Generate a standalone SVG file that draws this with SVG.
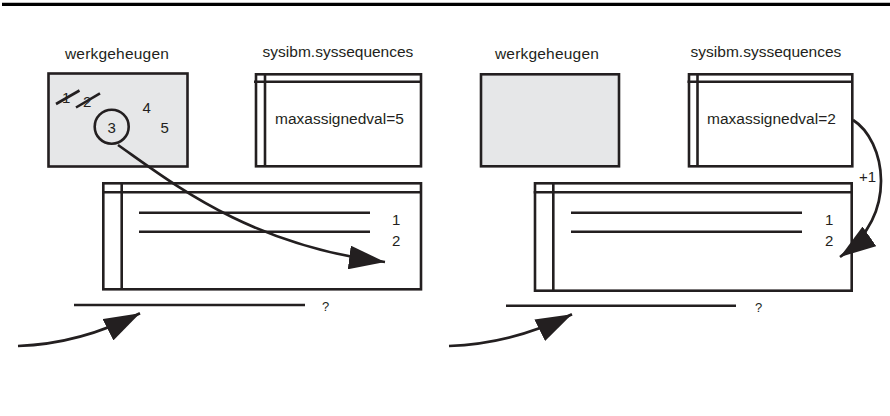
<svg xmlns="http://www.w3.org/2000/svg" width="890" height="416" viewBox="0 0 890 416">
<style>
  .t { font-family: "Liberation Sans", Arial, sans-serif; font-size: 15.5px; fill: #231f20; }
  .d { font-size: 15px; }
  .title { text-anchor: middle; }
  .wg { letter-spacing: 0.2px; }
  .q { font-size: 13px; }
  .box { fill: none; stroke: #231f20; stroke-width: 2.6; }
  .mem { fill: #e6e7e8; stroke: #231f20; stroke-width: 2.6; }
  .ln { stroke: #231f20; stroke-width: 2.6; fill: none; }
  .conn { fill: none; stroke: #231f20; stroke-width: 2.7; marker-end: url(#head); }
</style>
<defs>
  <marker id="head" viewBox="0 0 36 24" refX="36" refY="12" markerWidth="36" markerHeight="24" markerUnits="userSpaceOnUse" orient="auto">
    <path d="M0,0 L36,12 L0,24 Z" fill="#231f20"/>
  </marker>
</defs>
<rect width="890" height="416" fill="#ffffff"/>
<line x1="2" y1="4.3" x2="890" y2="4.3" stroke="#000000" stroke-width="3.2"/>

<!-- Left scenario -->
<g id="werkgeheugen-left">
  <text class="t title wg" x="117" y="59">werkgeheugen</text>
  <rect class="mem" x="48.5" y="73.5" width="139" height="93"/>
  <text class="t d" x="62" y="103">1</text>
  <line class="ln" x1="56" y1="104" x2="79.5" y2="90.5" stroke-width="2.2"/>
  <text class="t d" x="83" y="107">2</text>
  <line class="ln" x1="76" y1="107.5" x2="100" y2="93.3" stroke-width="2.2"/>
  <text class="t d" x="142.5" y="112.7">4</text>
  <text class="t d" x="160.5" y="132.7">5</text>
  <circle class="box" cx="111.7" cy="126.7" r="17"/>
  <text class="t d" x="107.5" y="132.7">3</text>
</g>
<g id="sysseq-left">
  <text class="t title" x="338" y="57">sysibm.syssequences</text>
  <rect class="box" x="256" y="74.3" width="165" height="92"/>
  <line class="ln" x1="254" y1="81.8" x2="421" y2="81.8"/>
  <line class="ln" x1="265" y1="74.3" x2="265" y2="166.3"/>
  <text class="t" x="275" y="124">maxassignedval=5</text>
</g>
<g id="table-left">
  <rect class="box" x="103.3" y="183.3" width="317.7" height="106"/>
  <line class="ln" x1="102" y1="192.3" x2="421" y2="192.3"/>
  <line class="ln" x1="121.7" y1="183.3" x2="121.7" y2="289.3"/>
  <line class="ln" x1="139" y1="212.7" x2="370" y2="212.7"/>
  <line class="ln" x1="139" y1="231.7" x2="370" y2="231.7"/>
  <text class="t d" x="392" y="225">1</text>
  <text class="t d" x="392" y="246">2</text>
</g>
<g id="next-left">
  <line class="ln" x1="74" y1="305" x2="305" y2="305"/>
  <text class="t q" x="322" y="311">?</text>
</g>

<!-- Right scenario -->
<g id="werkgeheugen-right">
  <text class="t title wg" x="547" y="59">werkgeheugen</text>
  <rect class="mem" x="481" y="74.3" width="138" height="92"/>
</g>
<g id="sysseq-right">
  <text class="t title" x="766" y="57">sysibm.syssequences</text>
  <rect class="box" x="689" y="74.3" width="163.3" height="92"/>
  <line class="ln" x1="687.5" y1="81.8" x2="852.3" y2="81.8"/>
  <line class="ln" x1="697.5" y1="74.3" x2="697.5" y2="166.3"/>
  <text class="t" x="707" y="124">maxassignedval=2</text>
</g>
<g id="table-right">
  <rect class="box" x="535" y="183.3" width="316.7" height="107.4"/>
  <line class="ln" x1="533.7" y1="192.3" x2="851.7" y2="192.3"/>
  <line class="ln" x1="553.3" y1="183.3" x2="553.3" y2="290.7"/>
  <line class="ln" x1="571" y1="212.7" x2="802" y2="212.7"/>
  <line class="ln" x1="571" y1="231.7" x2="802" y2="231.7"/>
  <text class="t d" x="825" y="225">1</text>
  <text class="t d" x="825" y="246">2</text>
</g>
<g id="next-right">
  <line class="ln" x1="506" y1="305.7" x2="736" y2="305.7"/>
  <text class="t q" x="755" y="311.5">?</text>
</g>

<g id="connectors">
  <path class="conn" d="M118,145 C175,185 250,245 385,262"/>
  <path class="conn" d="M18,346 Q80,344 140,313.3"/>
  <path class="conn" d="M853,120 C885,140 900,215 840,257"/>
  <path class="conn" d="M449,346 Q512,344 572,314.3"/>
  <text class="t d" x="859" y="182">+1</text>
</g>
</svg>
